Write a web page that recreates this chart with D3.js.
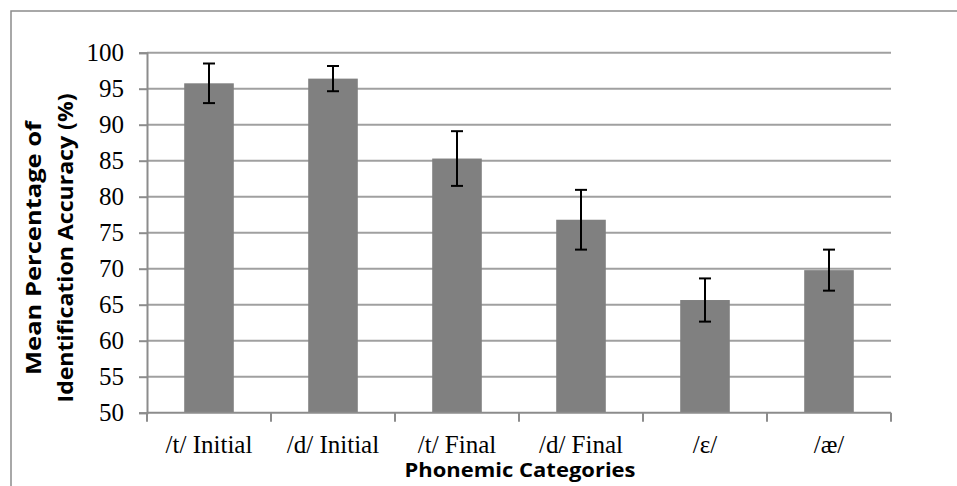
<!DOCTYPE html>
<html><head><meta charset="utf-8">
<script src="https://cdn.jsdelivr.net/npm/d3@7"></script>
<style>body{margin:0;background:#fff}svg{display:block}</style>
</head><body>
<script>
const categories = ["/t/ Initial", "/d/ Initial", "/t/ Final", "/d/ Final", "/ɛ/", "/æ/"];
const means = [95.75, 96.4, 85.3, 76.8, 65.65, 69.8];
const errors = [2.75, 1.75, 3.8, 4.15, 3.0, 2.85];
const yTicks = [50, 55, 60, 65, 70, 75, 80, 85, 90, 95, 100];
const xTitle = "Phonemic Categories";
const yTitle = ["Mean Percentage of", "Identification Accuracy (%)"];

(function () {
const W = 957, H = 486;
const serif = "'Liberation Serif', 'Times New Roman', serif";
const sans = "'Open Sans', 'DejaVu Sans', sans-serif";
const svg = d3.select("body").append("svg").attr("width", W).attr("height", H);

svg.append("rect").attr("x", 11).attr("y", 11).attr("width", 1200).attr("height", 800)
  .attr("fill", "none").attr("stroke", "#8c8c8c").attr("stroke-width", 1.5);

const pL = 147, pR = 891, pT = 52.7, pB = 412.7;
const x = d3.scaleBand().domain(categories).range([pL, pR]).paddingInner(0.6).paddingOuter(0.3);
const y = d3.scaleLinear().domain([50, 100]).range([pB, pT]);

// gridlines
svg.append("g").selectAll("line").data(yTicks.filter(d => d > 50)).join("line")
  .attr("x1", pL).attr("x2", pR).attr("y1", d => y(d)).attr("y2", d => y(d))
  .attr("stroke", "#a0a0a0").attr("stroke-width", 2);

// y axis
const yAxis = d3.axisLeft(y).tickValues(yTicks).tickSize(8).tickPadding(15);
const gy = svg.append("g").attr("transform", `translate(${pL},0)`).call(yAxis);
gy.attr("font-family", null).attr("font-size", null);
gy.select(".domain").attr("stroke", "#8c8c8c").attr("stroke-width", 2);
gy.selectAll(".tick line").attr("stroke", "#8c8c8c").attr("stroke-width", 2);
gy.selectAll(".tick text").style("font-family", serif).style("font-size", "25px").attr("fill", "#000").attr("dy", "0.33em");

// bars
svg.append("g").selectAll("rect").data(categories).join("rect")
  .attr("x", d => x(d)).attr("width", x.bandwidth())
  .attr("y", (d, i) => y(means[i])).attr("height", (d, i) => y(50) - y(means[i]))
  .attr("fill", "#808080");

// x axis
const xb = d3.scaleLinear().domain([0, categories.length]).range([pL, pR]);
const gx = svg.append("g").attr("transform", `translate(0,${pB})`);
gx.append("line").attr("x1", pL).attr("x2", pR).attr("stroke", "#8c8c8c").attr("stroke-width", 2);
gx.selectAll(".tk").data(d3.range(categories.length + 1)).join("line").attr("class", "tk")
  .attr("x1", d => xb(d)).attr("x2", d => xb(d)).attr("y1", 0).attr("y2", 9)
  .attr("stroke", "#8c8c8c").attr("stroke-width", 2);
gx.selectAll("text").data(categories).join("text")
  .attr("x", d => x(d) + x.bandwidth() / 2).attr("y", 40.5)
  .attr("text-anchor", "middle").style("font-family", serif).style("font-size", "25px")
  .text(d => d);

// error bars
const eb = svg.append("g").attr("stroke", "#000").attr("stroke-width", 2);
categories.forEach((c, i) => {
  const cx = x(c) + x.bandwidth() / 2;
  const hi = y(means[i] + errors[i]), lo = y(means[i] - errors[i]);
  eb.append("line").attr("x1", cx).attr("x2", cx).attr("y1", hi).attr("y2", lo);
  eb.append("line").attr("x1", cx - 6).attr("x2", cx + 6).attr("y1", hi).attr("y2", hi);
  eb.append("line").attr("x1", cx - 6).attr("x2", cx + 6).attr("y1", lo).attr("y2", lo);
});

// x title
svg.append("text").attr("x", 520).attr("y", 477).attr("text-anchor", "middle")
  .style("font-family", sans).style("font-weight", "bold").style("font-size", "20px")
  .attr("textLength", 231).attr("lengthAdjust", "spacingAndGlyphs").text(xTitle);

// y title
const yt = svg.append("text").attr("transform", "translate(0,248) rotate(-90)")
  .attr("text-anchor", "middle").style("font-family", sans).style("font-weight", "bold").style("font-size", "21px");
yt.append("tspan").attr("x", 0).attr("y", 41).attr("textLength", 254).attr("lengthAdjust", "spacingAndGlyphs").text(yTitle[0]);
yt.append("tspan").attr("x", 0).attr("y", 73).attr("textLength", 309).attr("lengthAdjust", "spacingAndGlyphs").text(yTitle[1]);
})();
</script>
</body></html>
